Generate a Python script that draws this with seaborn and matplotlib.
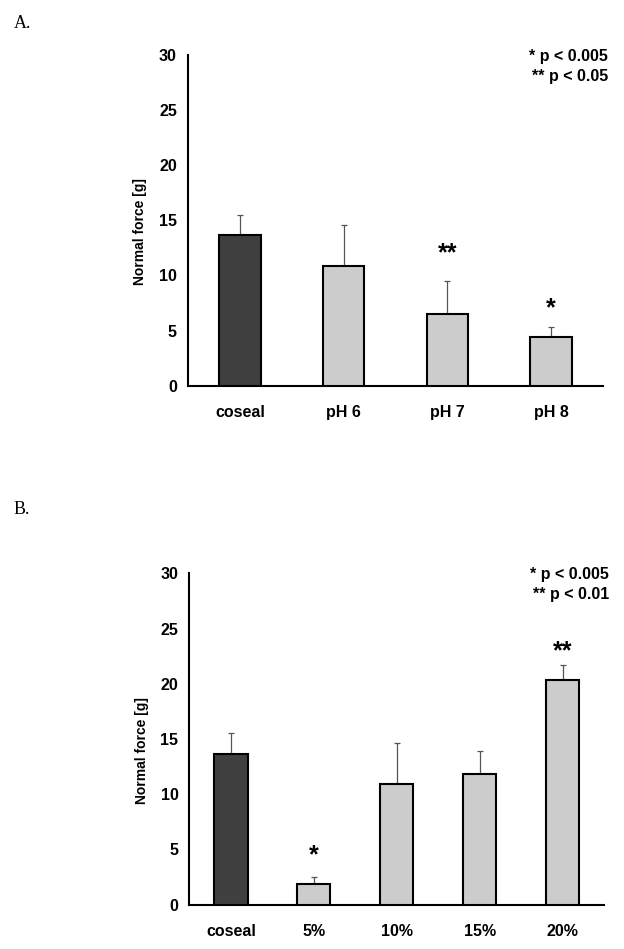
import numpy as np
import pandas as pd
import matplotlib
matplotlib.use("Agg")
import matplotlib.pyplot as plt
import seaborn as sns

# ---- data ----
cats_a = ["coseal", "pH 6", "pH 7", "pH 8"]
mean_a = [13.65, 10.9, 6.5, 4.4]
err_a = [1.85, 3.7, 3.0, 0.9]
stars_a = ["", "", "**", "*"]
star_y_a = [None, None, 12.0, 7.0]
note_a = ["* p < 0.005", "** p < 0.05"]

cats_b = ["coseal", "5%", "10%", "15%", "20%"]
mean_b = [13.65, 1.9, 10.9, 11.8, 20.3]
err_b = [1.85, 0.6, 3.7, 2.1, 1.4]
stars_b = ["", "*", "", "", "**"]
star_y_b = [None, 4.5, None, None, 22.9]
note_b = ["* p < 0.005", "** p < 0.01"]

yticks = [0, 5, 10, 15, 20, 25, 30]

sns.set_style("white")
plt.rcParams["font.family"] = ["Liberation Sans", "DejaVu Sans"]
plt.rcParams["text.color"] = "black"
plt.rcParams["xtick.color"] = "black"
plt.rcParams["ytick.color"] = "black"
plt.rcParams["axes.labelcolor"] = "black"

DARK = "#404040"
LIGHT = "#cccccc"

fig = plt.figure(figsize=(6.24, 9.49), dpi=100)
W, H = 624, 949


def make_ax(left, right, top, bottom):
    return fig.add_axes([left / W, 1 - bottom / H, (right - left) / W, (bottom - top) / H])


def draw(ax, cats, means, errs, stars, star_y, notes):
    df = pd.DataFrame({"cat": cats, "val": means})
    pal = {c: (DARK if i == 0 else LIGHT) for i, c in enumerate(cats)}
    sns.barplot(data=df, x="cat", y="val", hue="cat", palette=pal, legend=False,
                width=0.4, edgecolor="black", linewidth=1.5, saturation=1, ax=ax, zorder=3)
    n = len(cats)
    x = np.arange(n)
    ax.errorbar(x, means, yerr=[np.zeros(n), errs], fmt="none", ecolor="#555555",
                elinewidth=0.9, capsize=2.5, capthick=0.9, zorder=2)
    for xi, s, sy in zip(x, stars, star_y):
        if s:
            ax.text(xi, sy, s, ha="center", va="center", fontsize=18, fontweight="bold")
    ax.set_xlim(-0.5, n - 0.5)
    ax.set_ylim(0, 30)
    ax.set_yticks(yticks)
    ax.set_xticks(x)
    ax.set_xticklabels(cats)
    ax.set_xticks(np.arange(-0.5, n, 1), minor=True)
    ax.tick_params(axis="x", which="major", length=0, pad=14, labelsize=11.5)
    ax.tick_params(axis="x", which="minor", length=5, width=1.5, direction="out", color="black")
    ax.tick_params(axis="y", length=5, width=1.5, direction="out", color="black", labelsize=11.5, pad=3)
    for lab in ax.get_xticklabels() + ax.get_yticklabels():
        lab.set_fontweight("bold")
    ax.set_xlabel("")
    ax.set_ylabel("Normal force [g]", fontsize=10, fontweight="bold")
    ax.yaxis.set_label_coords(-0.098, 0.465)
    for sp in ["top", "right"]:
        ax.spines[sp].set_visible(False)
    for sp in ["left", "bottom"]:
        ax.spines[sp].set_linewidth(1.5)
        ax.spines[sp].set_color("black")
    ax.text(1.012, 0.995, notes[0], transform=ax.transAxes, ha="right", va="center",
            fontsize=11.5, fontweight="bold")
    ax.text(1.012, 0.935, notes[1], transform=ax.transAxes, ha="right", va="center",
            fontsize=11.5, fontweight="bold")
    ax.patch.set_alpha(0)


ax_a = make_ax(188, 603, 55, 385.7)
draw(ax_a, cats_a, mean_a, err_a, stars_a, star_y_a, note_a)

ax_b = make_ax(189.5, 604, 573.3, 904.7)
draw(ax_b, cats_b, mean_b, err_b, stars_b, star_y_b, note_b)

fig.text(14 / W, 1 - 27.5 / H, "A.", fontsize=13, family=["Liberation Serif", "DejaVu Serif"],
         ha="left", va="baseline")
fig.text(14 / W, 1 - 513.5 / H, "B.", fontsize=13, family=["Liberation Serif", "DejaVu Serif"],
         ha="left", va="baseline")

fig.savefig("out.png", dpi=100)
